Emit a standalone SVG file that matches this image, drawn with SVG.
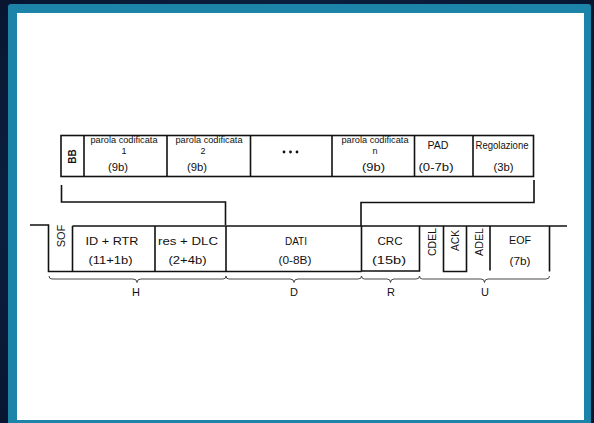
<svg xmlns="http://www.w3.org/2000/svg" width="594" height="423" viewBox="0 0 594 423">
<defs>
<style>
.t{font-family:"Liberation Sans",Arial,sans-serif;font-size:10px;fill:#111;text-anchor:middle}
.m{font-size:11px}
.p{font-size:9px}
.b{fill:none;stroke:#111;stroke-width:1.6}
.br{fill:none;stroke:#333;stroke-width:0.9}
</style>
<radialGradient id="bg" cx="0.5" cy="0.5" r="0.8">
<stop offset="0" stop-color="#12305a"/>
<stop offset="1" stop-color="#06122a"/>
</radialGradient>
</defs>
<rect x="0" y="0" width="594" height="423" fill="url(#bg)"/>
<rect x="8" y="4" width="583" height="430" rx="3" fill="#1b84a8"/>
<rect x="17" y="13" width="567" height="407" fill="#ffffff"/>

<g id="top-row">
<rect class="b" x="61" y="135.5" width="472.5" height="41"/>
<g id="cell-bb">
<line class="b" x1="84" y1="135.5" x2="84" y2="176.5"/>
<text class="t" transform="translate(75.5,156.5) rotate(-90)" style="font-weight:bold">BB</text>
</g>
<g id="cell-parola1">
<line class="b" x1="167" y1="135.5" x2="167" y2="176.5"/>
<text class="t p" x="124" y="143" textLength="67" lengthAdjust="spacingAndGlyphs">parola codificata</text>
<text class="t p" x="124" y="153.5">1</text>
<text class="t" x="118" y="171" textLength="20" lengthAdjust="spacingAndGlyphs">(9b)</text>
</g>
<g id="cell-parola2">
<line class="b" x1="250.5" y1="135.5" x2="250.5" y2="176.5"/>
<text class="t p" x="209" y="143" textLength="67" lengthAdjust="spacingAndGlyphs">parola codificata</text>
<text class="t p" x="203" y="153.5">2</text>
<text class="t" x="197" y="171" textLength="20" lengthAdjust="spacingAndGlyphs">(9b)</text>
</g>
<g id="cell-dots">
<line class="b" x1="332" y1="135.5" x2="332" y2="176.5"/>
<circle cx="284" cy="152" r="1.4" fill="#111"/>
<circle cx="290.5" cy="152" r="1.4" fill="#111"/>
<circle cx="297" cy="152" r="1.4" fill="#111"/>
</g>
<g id="cell-parolan">
<line class="b" x1="414.5" y1="135.5" x2="414.5" y2="176.5"/>
<text class="t p" x="375" y="143" textLength="67" lengthAdjust="spacingAndGlyphs">parola codificata</text>
<text class="t p" x="375" y="153.5">n</text>
<text class="t" x="373.5" y="171" textLength="23" lengthAdjust="spacingAndGlyphs">(9b)</text>
</g>
<g id="cell-pad">
<line class="b" x1="473" y1="135.5" x2="473" y2="176.5"/>
<text class="t m" x="438" y="149" textLength="21" lengthAdjust="spacingAndGlyphs">PAD</text>
<text class="t m" x="436" y="171" textLength="35" lengthAdjust="spacingAndGlyphs">(0-7b)</text>
</g>
<g id="cell-regolazione">
<text class="t" x="502" y="149" textLength="53" lengthAdjust="spacingAndGlyphs">Regolazione</text>
<text class="t m" x="503.5" y="171" textLength="20" lengthAdjust="spacingAndGlyphs">(3b)</text>
</g>
</g>

<g id="connectors">
<polyline class="b" points="61.5,185 61.5,202 225.5,202 225.5,225"/>
<polyline class="b" points="534,180 534,202.5 361,202.5 361,226"/>
</g>

<g id="bottom-row">
<polyline class="b" points="30,225 48.5,225 48.5,271.5 361.5,271.5"/>
<line class="b" x1="72.5" y1="226" x2="567" y2="226"/>
<g id="cell-sof">
<line class="b" x1="72.5" y1="226" x2="72.5" y2="271.5"/>
<text class="t m" transform="translate(65,236) rotate(-90)">SOF</text>
</g>
<g id="cell-id">
<line class="b" x1="155" y1="226" x2="155" y2="271.5"/>
<text class="t m" x="112" y="245" textLength="53" lengthAdjust="spacingAndGlyphs">ID + RTR</text>
<text class="t m" x="110.5" y="264" textLength="44" lengthAdjust="spacingAndGlyphs">(11+1b)</text>
</g>
<g id="cell-res">
<line class="b" x1="226" y1="226" x2="226" y2="271.5"/>
<text class="t m" x="188" y="245" textLength="60" lengthAdjust="spacingAndGlyphs">res + DLC</text>
<text class="t m" x="187.5" y="264" textLength="38" lengthAdjust="spacingAndGlyphs">(2+4b)</text>
</g>
<g id="cell-dati">
<line class="b" x1="361.5" y1="226" x2="361.5" y2="271.5"/>
<text class="t m" x="296" y="245" textLength="22" lengthAdjust="spacingAndGlyphs">DATI</text>
<text class="t m" x="295" y="264" textLength="33" lengthAdjust="spacingAndGlyphs">(0-8B)</text>
</g>
<g id="cell-crc">
<polyline class="b" points="361.5,271 419.5,271 419.5,226"/>
<text class="t m" x="390" y="245" textLength="25" lengthAdjust="spacingAndGlyphs">CRC</text>
<text class="t m" x="389" y="264" textLength="34" lengthAdjust="spacingAndGlyphs">(15b)</text>
</g>
<g id="cell-cdel">
<text class="t m" transform="translate(435.5,242) rotate(-90)" textLength="28" lengthAdjust="spacingAndGlyphs">CDEL</text>
</g>
<g id="cell-ack">
<polyline class="b" points="443.5,226 443.5,271.5 466.5,271.5 466.5,226"/>
<text class="t m" transform="translate(459,240.5) rotate(-90)" textLength="21" lengthAdjust="spacingAndGlyphs">ACK</text>
</g>
<g id="cell-adel">
<line class="b" x1="490" y1="226" x2="490" y2="270.5"/>
<text class="t m" transform="translate(483,242) rotate(-90)" textLength="28" lengthAdjust="spacingAndGlyphs">ADEL</text>
</g>
<g id="cell-eof">
<line class="b" x1="549.5" y1="226" x2="549.5" y2="271.5"/>
<text class="t m" x="520" y="244" textLength="22" lengthAdjust="spacingAndGlyphs">EOF</text>
<text class="t m" x="520" y="265" textLength="21" lengthAdjust="spacingAndGlyphs">(7b)</text>
</g>
</g>

<g id="braces">
<path class="br" d="M49,276 Q49,279 52,279 L133,279 Q137,279 137,282.5 Q137,279 141,279 L223,279 Q226,279 226,276"/>
<path class="br" d="M226,276 Q226,279 229,279 L290,279 Q294,279 294,282.5 Q294,279 298,279 L358,279 Q361.5,279 361.5,276"/>
<path class="br" d="M361.5,276 Q361.5,279 364.5,279 L387,279 Q390.5,279 390.5,282.5 Q390.5,279 394,279 L416,279 Q419.5,279 419.5,276"/>
<path class="br" d="M419.5,276 Q419.5,279 422.5,279 L481,279 Q484.5,279 484.5,282.5 Q484.5,279 488,279 L546,279 Q549.5,279 549.5,276"/>
<text class="t m" x="136" y="296">H</text>
<text class="t m" x="294" y="296">D</text>
<text class="t m" x="391" y="296">R</text>
<text class="t m" x="485" y="296">U</text>
</g>
</svg>
